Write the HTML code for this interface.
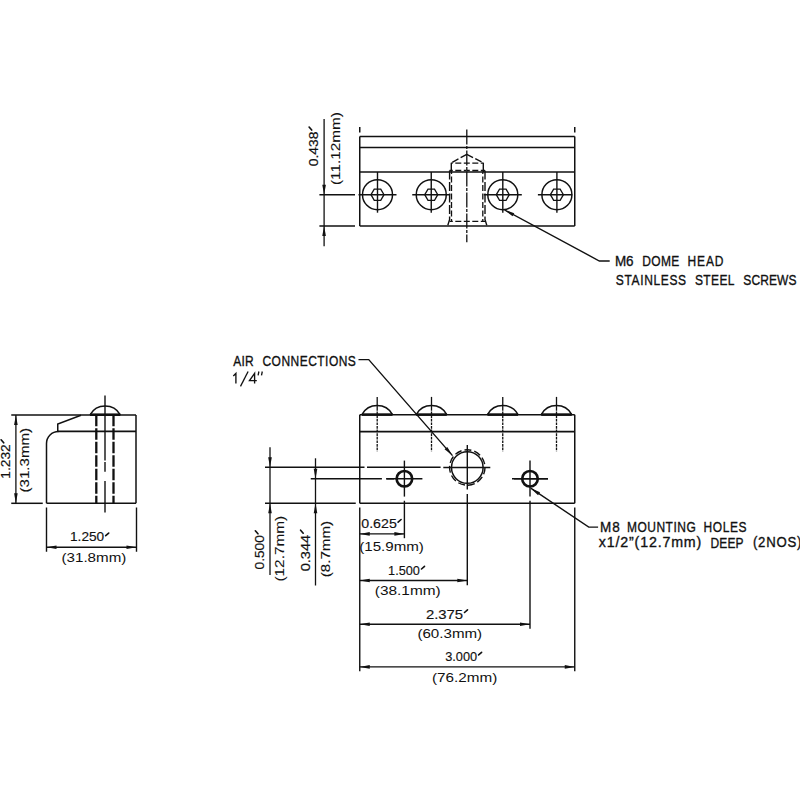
<!DOCTYPE html>
<html><head><meta charset="utf-8"><style>
html,body{margin:0;padding:0;background:#fff;width:800px;height:800px;overflow:hidden}
svg{display:block}
text{font-family:"Liberation Sans",sans-serif;fill:#111;stroke:#111}
</style></head><body>
<svg width="800" height="800" viewBox="0 0 800 800">
<rect width="800" height="800" fill="#fff"/>
<g stroke="#111" fill="none" stroke-linecap="butt">
<line x1="359.75" y1="136.50" x2="574.75" y2="136.50" stroke-width="1.5" />
<line x1="359.75" y1="147.50" x2="574.75" y2="147.50" stroke-width="1.5" />
<line x1="359.75" y1="172.00" x2="574.75" y2="172.00" stroke-width="1.5" />
<line x1="359.75" y1="226.00" x2="574.75" y2="226.00" stroke-width="1.5" />
<line x1="359.75" y1="136.50" x2="359.75" y2="226.00" stroke-width="1.5" />
<line x1="574.75" y1="136.50" x2="574.75" y2="226.00" stroke-width="1.5" />
<line x1="359.75" y1="127.00" x2="359.75" y2="132.50" stroke-width="1.5" />
<line x1="574.75" y1="127.00" x2="574.75" y2="132.50" stroke-width="1.5" />
<circle cx="377.5" cy="194.7" r="15" stroke-width="1.5" fill="none" />
<path d="M371.0,194.7 L374.25,189.1 L380.75,189.1 L384.0,194.7 L380.75,200.29999999999998 L374.25,200.29999999999998 Z" stroke-width="1.3" fill="none"/>
<line x1="377.50" y1="172.00" x2="377.50" y2="212.70" stroke-width="1.4" />
<line x1="358.50" y1="194.70" x2="396.50" y2="194.70" stroke-width="1.4" />
<circle cx="431.25" cy="194.7" r="15" stroke-width="1.5" fill="none" />
<path d="M424.75,194.7 L428.0,189.1 L434.5,189.1 L437.75,194.7 L434.5,200.29999999999998 L428.0,200.29999999999998 Z" stroke-width="1.3" fill="none"/>
<line x1="431.25" y1="172.00" x2="431.25" y2="212.70" stroke-width="1.4" />
<line x1="412.25" y1="194.70" x2="450.25" y2="194.70" stroke-width="1.4" />
<circle cx="502.8" cy="194.7" r="15" stroke-width="1.5" fill="none" />
<path d="M496.3,194.7 L499.55,189.1 L506.05,189.1 L509.3,194.7 L506.05,200.29999999999998 L499.55,200.29999999999998 Z" stroke-width="1.3" fill="none"/>
<line x1="502.80" y1="172.00" x2="502.80" y2="212.70" stroke-width="1.4" />
<line x1="483.80" y1="194.70" x2="521.80" y2="194.70" stroke-width="1.4" />
<circle cx="556.9" cy="194.7" r="15" stroke-width="1.5" fill="none" />
<path d="M550.4,194.7 L553.65,189.1 L560.15,189.1 L563.4,194.7 L560.15,200.29999999999998 L553.65,200.29999999999998 Z" stroke-width="1.3" fill="none"/>
<line x1="556.90" y1="172.00" x2="556.90" y2="212.70" stroke-width="1.4" />
<line x1="537.90" y1="194.70" x2="572.25" y2="194.70" stroke-width="1.4" />
<path d="M466.8,154.4 L451.3,162.8" stroke-width="1.4" fill="none" stroke-dasharray="7,2.5"/>
<path d="M466.8,154.4 L483.3,162.8" stroke-width="1.4" fill="none" stroke-dasharray="7,2.5"/>
<line x1="466.80" y1="163.10" x2="451.30" y2="163.10" stroke-width="1.4" stroke-dasharray="6,2.5" stroke-dashoffset="3.0"/>
<line x1="466.80" y1="163.10" x2="483.30" y2="163.10" stroke-width="1.4" stroke-dasharray="6,2.5" stroke-dashoffset="3.0"/>
<line x1="451.30" y1="162.80" x2="451.30" y2="172.00" stroke-width="1.4" />
<line x1="483.30" y1="162.80" x2="483.30" y2="172.00" stroke-width="1.4" />
<line x1="466.80" y1="170.50" x2="449.60" y2="170.50" stroke-width="1.4" stroke-dasharray="6,2.5" stroke-dashoffset="3.0"/>
<line x1="466.80" y1="170.50" x2="485.00" y2="170.50" stroke-width="1.4" stroke-dasharray="6,2.5" stroke-dashoffset="3.0"/>
<path d="M449.6,170.5 L449.6,219.5 L447.6,226" stroke-width="1.4" fill="none" stroke-dasharray="9,2.5"/>
<path d="M485.0,170.5 L485.0,219.5 L487.0,226" stroke-width="1.4" fill="none" stroke-dasharray="9,2.5"/>
<line x1="451.50" y1="172.00" x2="451.50" y2="221.40" stroke-width="1.3" stroke-dasharray="6,2.5" stroke-dashoffset="4"/>
<line x1="482.80" y1="172.00" x2="482.80" y2="221.40" stroke-width="1.3" stroke-dasharray="6,2.5" stroke-dashoffset="4"/>
<line x1="466.80" y1="221.40" x2="449.60" y2="221.40" stroke-width="1.4" stroke-dasharray="6,2.5" stroke-dashoffset="3.0"/>
<line x1="466.80" y1="221.40" x2="485.00" y2="221.40" stroke-width="1.4" stroke-dasharray="6,2.5" stroke-dashoffset="3.0"/>
<line x1="466.80" y1="129.40" x2="466.80" y2="242.20" stroke-width="1.3" stroke-dasharray="15,1.5,3,1.5"/>
<line x1="319.40" y1="194.75" x2="355.00" y2="194.75" stroke-width="1.5" />
<line x1="319.40" y1="226.00" x2="355.00" y2="226.00" stroke-width="1.5" />
<line x1="324.10" y1="119.10" x2="324.10" y2="246.30" stroke-width="1.3" />
<path d="M324.10,194.75 L322.30,184.75 L325.90,184.75 Z" fill="#111" stroke="none"/>
<path d="M324.10,226.00 L325.90,236.00 L322.30,236.00 Z" fill="#111" stroke="none"/>
<path d="M609.7,261 L599.4,261 L504.6,210" stroke-width="1.4" fill="none" />
<path d="M504.60,210.00 L514.26,213.15 L512.55,216.32 Z" fill="#111" stroke="none"/>
<line x1="359.75" y1="414.80" x2="574.75" y2="414.80" stroke-width="1.5" />
<line x1="359.75" y1="431.60" x2="574.75" y2="431.60" stroke-width="1.9" />
<line x1="359.75" y1="503.30" x2="574.75" y2="503.30" stroke-width="1.5" />
<line x1="359.75" y1="414.80" x2="359.75" y2="503.30" stroke-width="1.5" />
<line x1="574.75" y1="414.80" x2="574.75" y2="503.30" stroke-width="1.5" />
<path d="M361.9,414.6 A17.5,17.5 0 0 1 392.5,414.6" stroke-width="1.5" fill="none" />
<line x1="361.90" y1="414.60" x2="392.50" y2="414.60" stroke-width="2.6" />
<line x1="377.20" y1="396.90" x2="377.20" y2="408.00" stroke-width="1.3" />
<line x1="377.20" y1="408.00" x2="377.20" y2="451.50" stroke-width="1.3" stroke-dasharray="2.7,0.9"/>
<path d="M416.2,414.6 A17.5,17.5 0 0 1 446.8,414.6" stroke-width="1.5" fill="none" />
<line x1="416.20" y1="414.60" x2="446.80" y2="414.60" stroke-width="2.6" />
<line x1="431.50" y1="396.90" x2="431.50" y2="408.00" stroke-width="1.3" />
<line x1="431.50" y1="408.00" x2="431.50" y2="451.50" stroke-width="1.3" stroke-dasharray="2.7,0.9"/>
<path d="M487.45,414.6 A17.5,17.5 0 0 1 518.05,414.6" stroke-width="1.5" fill="none" />
<line x1="487.45" y1="414.60" x2="518.05" y2="414.60" stroke-width="2.6" />
<line x1="502.75" y1="396.90" x2="502.75" y2="408.00" stroke-width="1.3" />
<line x1="502.75" y1="408.00" x2="502.75" y2="451.50" stroke-width="1.3" stroke-dasharray="2.7,0.9"/>
<path d="M541.2,414.6 A17.5,17.5 0 0 1 571.8,414.6" stroke-width="1.5" fill="none" />
<line x1="541.20" y1="414.60" x2="571.80" y2="414.60" stroke-width="2.6" />
<line x1="556.50" y1="396.90" x2="556.50" y2="408.00" stroke-width="1.3" />
<line x1="556.50" y1="408.00" x2="556.50" y2="451.50" stroke-width="1.3" stroke-dasharray="2.7,0.9"/>
<circle cx="467.3" cy="467.5" r="15.8" stroke-width="1.5" fill="none" />
<circle cx="467.3" cy="467.5" r="17.7" stroke-width="1.4" fill="none" stroke-dasharray="7,3"/>
<line x1="443.30" y1="467.50" x2="490.30" y2="467.50" stroke-width="1.5" />
<line x1="467.30" y1="445.00" x2="467.30" y2="489.50" stroke-width="1.4" />
<line x1="467.30" y1="494.00" x2="467.30" y2="585.30" stroke-width="1.4" />
<circle cx="404.4" cy="478.75" r="7.8" stroke-width="2.6" fill="none" />
<line x1="386.40" y1="478.75" x2="422.40" y2="478.75" stroke-width="1.5" />
<line x1="404.40" y1="460.60" x2="404.40" y2="496.60" stroke-width="1.4" />
<circle cx="530" cy="478.75" r="7.8" stroke-width="2.6" fill="none" />
<line x1="512.00" y1="478.75" x2="548.00" y2="478.75" stroke-width="1.5" />
<line x1="530.00" y1="460.60" x2="530.00" y2="496.60" stroke-width="1.4" />
<line x1="404.40" y1="500.75" x2="404.40" y2="538.20" stroke-width="1.4" />
<line x1="530.00" y1="500.75" x2="530.00" y2="628.80" stroke-width="1.4" />
<line x1="265.00" y1="467.30" x2="364.50" y2="467.30" stroke-width="1.5" />
<line x1="367.00" y1="467.30" x2="440.60" y2="467.30" stroke-width="1.6" />
<line x1="310.75" y1="478.75" x2="381.90" y2="478.75" stroke-width="1.5" />
<line x1="386.20" y1="478.75" x2="394.00" y2="478.75" stroke-width="1.5" />
<line x1="514.00" y1="478.75" x2="548.00" y2="478.75" stroke-width="1.5" />
<path d="M358.5,359.6 L368.75,359.6 L452.5,455.6" stroke-width="1.4" fill="none" />
<path d="M452.50,455.60 L444.57,449.25 L447.28,446.88 Z" fill="#111" stroke="none"/>
<line x1="265.00" y1="503.30" x2="355.75" y2="503.30" stroke-width="1.5" />
<line x1="270.00" y1="447.20" x2="270.00" y2="575.00" stroke-width="1.3" />
<path d="M270.00,467.25 L268.20,457.25 L271.80,457.25 Z" fill="#111" stroke="none"/>
<path d="M270.00,503.30 L271.80,513.30 L268.20,513.30 Z" fill="#111" stroke="none"/>
<line x1="315.50" y1="458.30" x2="315.50" y2="585.50" stroke-width="1.3" />
<path d="M315.50,478.75 L313.70,468.75 L317.30,468.75 Z" fill="#111" stroke="none"/>
<path d="M315.50,503.30 L317.30,513.30 L313.70,513.30 Z" fill="#111" stroke="none"/>
<line x1="359.75" y1="507.50" x2="359.75" y2="671.30" stroke-width="1.4" />
<line x1="574.75" y1="507.50" x2="574.75" y2="671.30" stroke-width="1.4" />
<line x1="359.75" y1="533.90" x2="404.40" y2="533.90" stroke-width="1.4" />
<path d="M359.75,533.90 L369.75,532.10 L369.75,535.70 Z" fill="#111" stroke="none"/>
<path d="M404.40,533.90 L394.40,535.70 L394.40,532.10 Z" fill="#111" stroke="none"/>
<line x1="359.75" y1="580.50" x2="467.30" y2="580.50" stroke-width="1.4" />
<path d="M359.75,580.50 L369.75,578.70 L369.75,582.30 Z" fill="#111" stroke="none"/>
<path d="M467.30,580.50 L457.30,582.30 L457.30,578.70 Z" fill="#111" stroke="none"/>
<line x1="359.75" y1="624.20" x2="530.00" y2="624.20" stroke-width="1.4" />
<path d="M359.75,624.20 L369.75,622.40 L369.75,626.00 Z" fill="#111" stroke="none"/>
<path d="M530.00,624.20 L520.00,626.00 L520.00,622.40 Z" fill="#111" stroke="none"/>
<line x1="359.75" y1="666.90" x2="574.75" y2="666.90" stroke-width="1.4" />
<path d="M359.75,666.90 L369.75,665.10 L369.75,668.70 Z" fill="#111" stroke="none"/>
<path d="M574.75,666.90 L564.75,668.70 L564.75,665.10 Z" fill="#111" stroke="none"/>
<path d="M598.1,527.1 L588.75,527.1 L530.75,488.2" stroke-width="1.4" fill="none" />
<path d="M530.75,488.20 L540.06,492.28 L538.05,495.27 Z" fill="#111" stroke="none"/>
<path d="M233.3,375.9 L235.9,373.4 L235.9,383.6" stroke-width="1.35" fill="none" />
<path d="M240.5,386.4 L248.1,371.5" stroke-width="1.3" fill="none" />
<path d="M254.6,383.6 L254.6,373.4 L249.5,380.6 L256.8,380.6" stroke-width="1.35" fill="none" />
<path d="M258.9,371.5 L258.1,375.4 M262.3,371.5 L261.5,375.4" stroke-width="1.3" fill="none" />
<line x1="11.25" y1="415.00" x2="136.00" y2="415.00" stroke-width="1.5" />
<path d="M81,415.3 L57.75,424 L57.75,431.5" stroke-width="1.5" fill="none" />
<line x1="57.75" y1="431.30" x2="136.00" y2="431.30" stroke-width="1.7" />
<path d="M46.5,503.3 L46.5,443.5 A12,12 0 0 1 58.5,431.5" stroke-width="1.5" fill="none" />
<line x1="46.50" y1="503.30" x2="136.00" y2="503.30" stroke-width="1.5" />
<line x1="11.25" y1="503.30" x2="42.75" y2="503.30" stroke-width="1.5" />
<line x1="136.00" y1="415.00" x2="136.00" y2="503.30" stroke-width="1.5" />
<path d="M90,414.8 A17.5,17.5 0 0 1 120.3,414.8" stroke-width="1.5" fill="none" />
<line x1="90.00" y1="414.70" x2="120.30" y2="414.70" stroke-width="2.6" />
<line x1="96.30" y1="414.70" x2="96.30" y2="503.30" stroke-width="2.3" stroke-dasharray="11.5,2"/>
<line x1="113.50" y1="414.70" x2="113.50" y2="503.30" stroke-width="2.3" stroke-dasharray="11.5,2"/>
<line x1="105.00" y1="395.60" x2="105.00" y2="460.40" stroke-width="1.4" />
<line x1="105.00" y1="462.00" x2="105.00" y2="471.70" stroke-width="1.4" />
<line x1="105.00" y1="481.00" x2="105.00" y2="512.60" stroke-width="1.4" />
<line x1="15.90" y1="415.00" x2="15.90" y2="503.30" stroke-width="1.3" />
<path d="M15.90,415.00 L17.70,425.00 L14.10,425.00 Z" fill="#111" stroke="none"/>
<path d="M15.90,503.30 L14.10,493.30 L17.70,493.30 Z" fill="#111" stroke="none"/>
<line x1="46.50" y1="507.50" x2="46.50" y2="551.75" stroke-width="1.4" />
<line x1="136.50" y1="507.50" x2="136.50" y2="551.75" stroke-width="1.4" />
<line x1="46.50" y1="547.25" x2="136.50" y2="547.25" stroke-width="1.4" />
<path d="M46.50,547.25 L56.50,545.45 L56.50,549.05 Z" fill="#111" stroke="none"/>
<path d="M136.50,547.25 L126.50,549.05 L126.50,545.45 Z" fill="#111" stroke="none"/>
<text transform="translate(615.05 265.95) scale(0.9 1)" font-size="15.00" stroke-width="0.35" textLength="20.62" lengthAdjust="spacing">M6</text>
<text transform="translate(642.25 265.95) scale(0.8 1)" font-size="15.00" stroke-width="0.35" textLength="46.31" lengthAdjust="spacing">DOME</text>
<text transform="translate(687.45 265.95) scale(0.8 1)" font-size="15.00" stroke-width="0.35" textLength="44.98" lengthAdjust="spacing">HEAD</text>
<text transform="translate(615.85 284.90) scale(0.8 1)" font-size="15.00" stroke-width="0.35" textLength="87.79" lengthAdjust="spacing">STAINLESS</text>
<text transform="translate(694.95 284.90) scale(0.8 1)" font-size="15.00" stroke-width="0.35" textLength="49.38" lengthAdjust="spacing">STEEL</text>
<text transform="translate(743.30 284.90) scale(0.8 1)" font-size="15.00" stroke-width="0.35" textLength="66.41" lengthAdjust="spacing">SCREWS</text>
<text transform="translate(233.30 365.50) scale(0.8 1)" font-size="15.00" stroke-width="0.35" textLength="25.47" lengthAdjust="spacing">AIR</text>
<text transform="translate(262.50 365.50) scale(0.8 1)" font-size="15.00" stroke-width="0.35" textLength="116.69" lengthAdjust="spacing">CONNECTIONS</text>
<text transform="translate(599.95 531.95) scale(0.9 1)" font-size="15.00" stroke-width="0.35" textLength="22.08" lengthAdjust="spacing">M8</text>
<text transform="translate(626.90 531.95) scale(0.8 1)" font-size="15.00" stroke-width="0.35" textLength="86.07" lengthAdjust="spacing">MOUNTING</text>
<text transform="translate(703.45 531.95) scale(0.8 1)" font-size="15.00" stroke-width="0.35" textLength="53.90" lengthAdjust="spacing">HOLES</text>
<text transform="translate(598.75 547.25) scale(0.95 1)" font-size="15.00" stroke-width="0.35" textLength="107.95" lengthAdjust="spacing">x1/2&#8221;(12.7mm)</text>
<text transform="translate(710.50 548.10) scale(0.8 1)" font-size="15.00" stroke-width="0.35" textLength="41.31" lengthAdjust="spacing">DEEP</text>
<text transform="translate(753.00 547.00) scale(0.88 1)" font-size="15.00" stroke-width="0.35" textLength="54.89" lengthAdjust="spacing">(2NOS)</text>
<text transform="translate(317.85 166.30) rotate(-90)" font-size="13.00" stroke-width="0.2" textLength="34.84" lengthAdjust="spacingAndGlyphs">0.438</text>
<path d="M311.70,130.05 L309.10,127.05" stroke-width="1.65" stroke-linecap="round"/>
<text transform="translate(340.25 185.10) rotate(-90)" font-size="13.00" stroke-width="0.1" textLength="73.04" lengthAdjust="spacingAndGlyphs">(11.12mm)</text>
<text transform="translate(264.25 569.50) rotate(-90)" font-size="13.00" stroke-width="0.2" textLength="34.41" lengthAdjust="spacingAndGlyphs">0.500</text>
<path d="M257.95,533.80 L255.35,530.80" stroke-width="1.65" stroke-linecap="round"/>
<text transform="translate(283.55 581.55) rotate(-90)" font-size="13.00" stroke-width="0.1" textLength="65.78" lengthAdjust="spacingAndGlyphs">(12.7mm)</text>
<text transform="translate(309.50 571.30) rotate(-90)" font-size="13.00" stroke-width="0.2" textLength="36.53" lengthAdjust="spacingAndGlyphs">0.344</text>
<path d="M303.20,533.20 L300.60,530.20" stroke-width="1.65" stroke-linecap="round"/>
<text transform="translate(330.25 577.25) rotate(-90)" font-size="13.00" stroke-width="0.1" textLength="56.32" lengthAdjust="spacingAndGlyphs">(8.7mm)</text>
<text transform="translate(361.25 527.75)" font-size="13.00" stroke-width="0.15" textLength="35.54" lengthAdjust="spacingAndGlyphs">0.625</text>
<path d="M398.10,522.10 L401.10,519.50" stroke-width="1.65" stroke-linecap="round"/>
<text transform="translate(359.20 551.40)" font-size="13.00" stroke-width="0.0" textLength="64.70" lengthAdjust="spacingAndGlyphs">(15.9mm)</text>
<text transform="translate(388.05 574.70)" font-size="13.00" stroke-width="0.15" textLength="31.87" lengthAdjust="spacingAndGlyphs">1.500</text>
<path d="M421.50,569.00 L424.50,566.40" stroke-width="1.65" stroke-linecap="round"/>
<text transform="translate(374.80 595.00)" font-size="13.00" stroke-width="0.0" textLength="65.88" lengthAdjust="spacingAndGlyphs">(38.1mm)</text>
<text transform="translate(425.90 618.50)" font-size="13.00" stroke-width="0.15" textLength="37.25" lengthAdjust="spacingAndGlyphs">2.375</text>
<path d="M464.50,612.50 L467.50,609.90" stroke-width="1.65" stroke-linecap="round"/>
<text transform="translate(417.40 638.15)" font-size="13.00" stroke-width="0.0" textLength="64.75" lengthAdjust="spacingAndGlyphs">(60.3mm)</text>
<text transform="translate(445.15 660.70)" font-size="13.00" stroke-width="0.15" textLength="31.98" lengthAdjust="spacingAndGlyphs">3.000</text>
<path d="M478.60,654.90 L481.60,652.30" stroke-width="1.65" stroke-linecap="round"/>
<text transform="translate(431.95 682.25)" font-size="13.00" stroke-width="0.0" textLength="65.37" lengthAdjust="spacingAndGlyphs">(76.2mm)</text>
<text transform="translate(10.10 478.80) rotate(-90)" font-size="13.00" stroke-width="0.2" textLength="34.61" lengthAdjust="spacingAndGlyphs">1.232</text>
<path d="M3.70,442.80 L1.10,439.80" stroke-width="1.65" stroke-linecap="round"/>
<text transform="translate(28.75 492.50) rotate(-90)" font-size="13.00" stroke-width="0.1" textLength="64.60" lengthAdjust="spacingAndGlyphs">(31.3mm)</text>
<text transform="translate(70.00 541.40)" font-size="13.00" stroke-width="0.15" textLength="34.17" lengthAdjust="spacingAndGlyphs">1.250</text>
<path d="M105.70,535.70 L108.70,533.10" stroke-width="1.65" stroke-linecap="round"/>
<text transform="translate(61.50 561.75)" font-size="13.00" stroke-width="0.0" textLength="64.85" lengthAdjust="spacingAndGlyphs">(31.8mm)</text>
</g>
</svg>
</body></html>
